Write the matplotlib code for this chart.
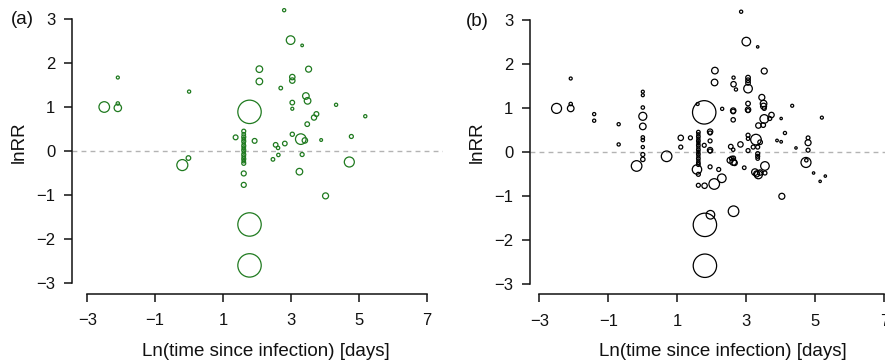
import matplotlib
matplotlib.use("Agg")
import matplotlib.pyplot as plt
import numpy as np

plt.rcParams['font.family'] = ['Liberation Sans', 'DejaVu Sans']

# ---------------- data ----------------
# panel (a): x = ln(time since infection), y = lnRR, w = relative weight (circle size)
a_x = [-2.50, -2.10, -2.10, -2.10, 0.00, -0.20, -0.02,
       1.78, 1.78, 1.78,
       1.61, 1.61, 1.61, 1.61, 1.61, 1.61, 1.61, 1.61, 1.61, 1.61, 1.61, 1.61, 1.61, 1.61, 1.61,
       1.61, 1.61,
       1.37, 1.93, 2.07, 2.07, 2.70, 2.80, 2.99, 3.33, 3.04, 3.04, 3.52, 3.44, 3.49, 3.04, 3.04,
       4.33, 5.19, 3.75, 3.68, 3.48, 3.04, 3.29, 3.41, 3.89, 4.78, 2.82, 2.55, 2.62, 2.63, 2.47,
       3.33, 3.25, 4.72, 4.02]
a_y = [1.00, 0.98, 1.08, 1.67, 1.35, -0.32, -0.16,
       0.89, -1.67, -2.60,
       0.45, 0.38, 0.32, 0.27, 0.22, 0.17, 0.12, 0.07, 0.02, -0.03, -0.08, -0.13, -0.18, -0.23, -0.28,
       -0.51, -0.77,
       0.31, 0.23, 1.86, 1.58, 1.43, 3.20, 2.52, 2.40, 1.68, 1.60, 1.86, 1.25, 1.14, 1.10, 0.96,
       1.05, 0.79, 0.84, 0.76, 0.61, 0.38, 0.27, 0.24, 0.25, 0.33, 0.17, 0.14, 0.07, -0.09, -0.19,
       -0.08, -0.47, -0.25, -1.02]
a_w = [5.3, 3.7, 1.7, 1.5, 1.6, 5.5, 2.3,
       11.7, 11.7, 11.7,
       2.0, 1.8, 2.0, 1.8, 2.0, 1.6, 2.0, 1.8, 2.0, 1.6, 2.0, 1.8, 2.0, 1.8, 2.0,
       2.5, 2.5,
       2.4, 2.4, 3.3, 3.3, 1.8, 1.6, 4.3, 1.3, 2.7, 2.7, 3.0, 3.3, 3.3, 2.3, 1.5,
       1.6, 1.6, 2.4, 2.6, 2.3, 2.1, 5.3, 2.7, 1.4, 2.0, 2.3, 2.3, 1.7, 1.7, 1.8,
       2.0, 3.3, 5.0, 3.0]

# panel (b)
b_x = [-2.50, -2.09, -2.09, -2.09, -1.41, -1.41, -0.70, -0.70,
       0.00, 0.00, 0.00, 0.00, 0.00, 0.00, 0.00, 0.00, 0.00, 0.00,
       -0.18, 0.69, 1.10, 1.10, 1.38,
       1.61, 1.61, 1.61, 1.61, 1.61, 1.61, 1.61, 1.61, 1.61, 1.61, 1.61, 1.61, 1.61, 1.61, 1.61, 1.61,
       1.57, 1.61, 1.61,
       1.78, 1.59, 1.80, 1.96, 1.80, 1.79, 2.07, 2.29, 1.95, 2.20,
       1.95, 1.95, 1.95, 1.95, 1.95, 1.78,
       2.09, 2.08, 2.30, 2.63, 2.63, 2.70, 2.62, 2.62, 2.62,
       2.85, 3.00, 3.33, 3.05, 3.05, 3.05, 3.05, 3.52, 3.05, 3.05, 3.05,
       3.45, 3.50, 3.50, 3.52, 3.52, 3.73, 3.68, 3.35, 3.49, 4.01, 4.33, 5.19,
       3.05, 3.28, 3.40, 3.05, 4.12, 3.89, 4.01, 4.79, 4.79, 4.79, 4.73, 4.74,
       4.44, 4.95, 5.14, 5.29, 4.03, 2.63, 3.54, 3.25, 3.35, 3.30, 3.40, 3.54,
       2.94, 2.53, 2.62, 2.58, 2.66, 2.63, 2.55, 2.62, 2.83, 3.05, 3.33, 3.33, 3.33, 3.33, 3.20]
b_y = [0.99, 0.99, 1.09, 1.67, 0.86, 0.71, 0.63, 0.17,
       1.37, 1.29, 1.01, 0.81, 0.58, 0.33, 0.27, 0.11, -0.06, -0.17,
       -0.32, -0.10, 0.32, 0.11, 0.32,
       0.45, 0.40, 0.35, 0.30, 0.25, 0.20, 0.15, 0.10, 0.05, 0.00, -0.05, -0.10, -0.15, -0.20, -0.25, -0.29,
       -0.40, -0.51, -0.76,
       0.90, 1.09, -1.66, -1.43, -2.59, -0.77, -0.73, -0.60, -0.34, -0.40,
       0.46, 0.43, 0.25, 0.04, 0.02, 0.15,
       1.85, 1.58, 0.98, 1.69, 1.54, 1.42, 0.94, 0.92, 0.73,
       3.19, 2.51, 2.39, 1.69, 1.63, 1.57, 1.44, 1.84, 1.10, 0.96, 0.94,
       1.24, 1.10, 1.04, 0.99, 0.75, 0.84, 0.76, 0.60, 0.61, 0.76, 1.05, 0.78,
       0.38, 0.28, 0.22, 0.30, 0.43, 0.26, 0.23, 0.32, 0.21, 0.04, -0.24, -0.19,
       0.09, -0.48, -0.67, -0.55, -1.01, -1.35, -0.32, -0.46, -0.52, -0.50, -0.47, -0.48,
       -0.36, -0.19, -0.23, -0.15, -0.25, -0.14, 0.12, 0.05, 0.17, 0.03, 0.11, -0.04, -0.10, -0.15, 0.11]
b_w = [5.0, 3.3, 1.7, 1.5, 1.6, 1.6, 1.6, 1.6,
       1.5, 1.5, 1.7, 4.0, 3.3, 1.7, 1.7, 1.6, 2.0, 2.2,
       5.3, 5.3, 2.7, 2.0, 2.0,
       1.8, 1.6, 1.8, 1.6, 1.8, 1.6, 1.8, 1.6, 1.8, 1.6, 1.8, 1.6, 1.8, 1.6, 1.8, 1.8,
       4.7, 2.0, 2.0,
       11.7, 1.5, 11.7, 4.3, 11.7, 2.7, 5.3, 4.3, 2.0, 2.0,
       2.7, 2.0, 2.0, 2.7, 2.0, 2.0,
       3.3, 3.3, 1.6, 1.6, 2.7, 1.6, 2.7, 2.3, 2.2,
       1.6, 4.3, 1.2, 2.3, 2.3, 2.3, 4.3, 3.0, 2.3, 2.7, 2.0,
       3.0, 3.3, 3.0, 2.0, 4.3, 2.7, 2.0, 2.7, 2.3, 1.2, 1.5, 1.5,
       2.0, 5.3, 2.3, 1.7, 1.6, 1.3, 1.3, 1.9, 3.0, 2.0, 5.0, 1.7,
       1.2, 1.2, 1.2, 1.2, 3.0, 5.3, 4.3, 3.3, 4.0, 3.0, 2.7, 2.0,
       1.8, 3.0, 3.3, 2.3, 2.7, 2.0, 2.3, 1.7, 2.7, 2.0, 2.0, 2.0, 2.0, 1.8, 2.0]

x_ticks = [-3, -1, 1, 3, 5, 7]
y_ticks = [-3, -2, -1, 0, 1, 2, 3]
panel_labels = ["(a)", "(b)"]
xlabel = "Ln(time since infection) [days]"
ylabel = "lnRR"

# ---------------- figure ----------------
W, H = 885, 364
fig = plt.figure(figsize=(W / 100, H / 100), dpi=100)


def rect(l, r, t, b):
    return [l / W, 1 - b / H, (r - l) / W, (b - t) / H]


panels = [
    dict(rect=rect(72, 443, -14, 294), xlim=(-3.45, 7.48), ylim=(-3.25, 3.75),
         x=a_x, y=a_y, w=a_w, color="#1f7a1f", lab=(11, 20), xl=(266, 352), yl=(19, 142)),
    dict(rect=rect(530, 900, -14, 294.3), xlim=(-3.27, 7.455), ylim=(-3.24, 3.775),
         x=b_x, y=b_y, w=b_w, color="black", lab=(466, 21), xl=(723, 352), yl=(477, 142)),
]

for i, p in enumerate(panels):
    ax = fig.add_axes(p["rect"])
    ax.set_xlim(*p["xlim"])
    ax.set_ylim(*p["ylim"])
    ax.axhline(0, color="#b3b3b3", lw=1.0, dashes=(3.5, 3), zorder=1)
    r = np.asarray(p["w"])
    s = (2 * r * 0.72) ** 2
    ax.scatter(p["x"], p["y"], s=s, facecolors="none", edgecolors=p["color"],
               linewidths=0.9, zorder=2, clip_on=False)
    for sp in ["top", "right"]:
        ax.spines[sp].set_visible(False)
    ax.spines["left"].set_bounds(-3, 3)
    ax.spines["bottom"].set_bounds(-3, 7)
    for sp in ["left", "bottom"]:
        ax.spines[sp].set_linewidth(1.1)
        ax.spines[sp].set_color("#111111")
    ax.set_xticks(x_ticks)
    ax.set_yticks(y_ticks)
    ax.set_xticklabels([("\u2212" if v < 0 else "") + str(abs(v)) for v in x_ticks])
    ax.set_yticklabels([("\u2212" if v < 0 else "") + str(abs(v)) for v in y_ticks])
    ax.tick_params(axis="both", direction="out", length=6, width=1.1, labelsize=12,
                   colors="#111111")
    ax.tick_params(axis="x", pad=8)
    ax.tick_params(axis="y", pad=6)
    ax.patch.set_alpha(0)
    ax.set_xlabel(xlabel, fontsize=13.5, color="#111111")
    ax.set_ylabel(ylabel, fontsize=13.5, color="#111111")
    ax.xaxis.set_label_coords(p["xl"][0] / W, 1 - p["xl"][1] / H, transform=fig.transFigure)
    ax.yaxis.set_label_coords(p["yl"][0] / W, 1 - p["yl"][1] / H, transform=fig.transFigure)
    ax.xaxis.label.set_va("center")
    ax.yaxis.label.set_va("center")
    fig.text(p["lab"][0] / W, 1 - p["lab"][1] / H, panel_labels[i], fontsize=13.5,
             ha="left", va="center", color="#111111")

fig.savefig("out.png", dpi=100)
